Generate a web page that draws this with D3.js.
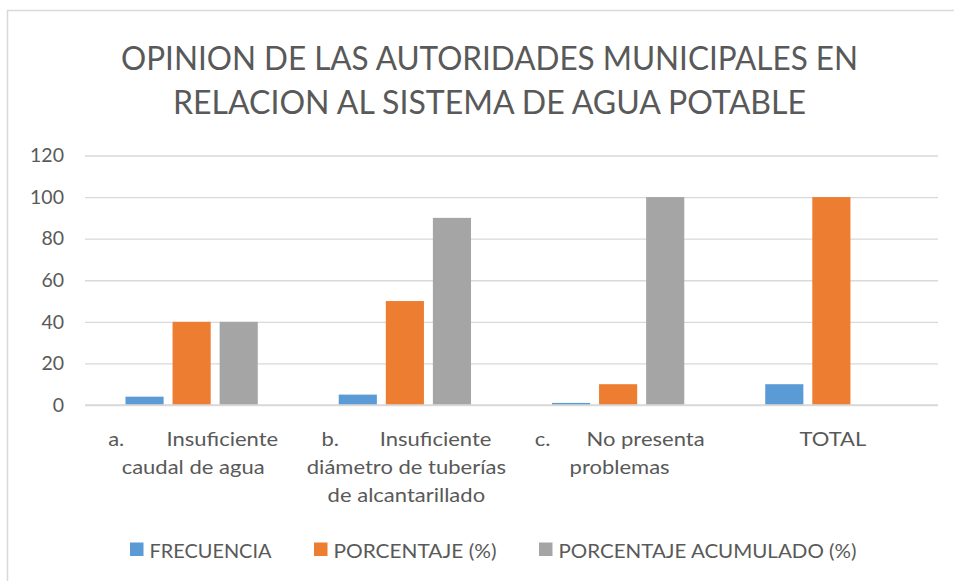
<!DOCTYPE html>
<html>
<head>
<meta charset="utf-8">
<script src="https://cdn.jsdelivr.net/npm/d3@7"></script>
<style>
  html, body { margin: 0; padding: 0; background: #fff; }
  svg { display: block; font-family: Lato, "Open Sans", sans-serif; }
</style>
</head>
<body>
<svg id="chart" width="954" height="581"></svg>
<script>
// ---- data ----
const titleLines = ["OPINION DE LAS AUTORIDADES MUNICIPALES EN", "RELACION AL SISTEMA DE AGUA POTABLE"];
const categories = ["a.\tInsuficiente caudal de agua", "b.\tInsuficiente diámetro de tuberías de alcantarillado", "c.\tNo presenta problemas", "TOTAL"];
// wrapped label lines; "\t" marks a justified first line (prefix left, text right)
const categoryLabelLines = [
  ["a.\tInsuficiente", "caudal de agua"],
  ["b.\tInsuficiente", "diámetro de tuberías", "de alcantarillado"],
  ["c.\tNo presenta", "problemas"],
  ["TOTAL"]
];
const seriesNames = ["FRECUENCIA", "PORCENTAJE (%)", "PORCENTAJE ACUMULADO (%)"];
const frecuencia = [4, 5, 1, 10];
const porcentaje = [40, 50, 10, 100];
const porcentajeAcumulado = [40, 90, 100, null];
const yTicks = [0, 20, 40, 60, 80, 100, 120];
const colors = ["#5B9BD5", "#ED7D31", "#A5A5A5"];

const seriesValues = [frecuencia, porcentaje, porcentajeAcumulado];

// ---- layout ----
const svg = d3.select("#chart");
const plot = { left: 85, right: 938, top: 155.5, bottom: 405 };
const textColor = "#595959";
const gridColor = "#D9D9D9";

// outer chart border
svg.append("rect")
  .attr("x", 7.5).attr("y", 10.5)
  .attr("width", 960).attr("height", 600)
  .attr("fill", "none").attr("stroke", gridColor).attr("stroke-width", 1.5);

// title
const titleWidths = [737, 633];
svg.append("g").selectAll("text").data(titleLines).join("text")
  .attr("x", 489.5)
  .attr("y", (d, i) => 69.5 + i * 44)
  .attr("text-anchor", "middle")
  .attr("fill", textColor)
  .attr("font-size", 32)
  .attr("font-weight", 400)
  .attr("textLength", (d, i) => titleWidths[i])
  .attr("lengthAdjust", "spacingAndGlyphs")
  .text(d => d);

// scales
const y = d3.scaleLinear().domain([0, 120]).range([plot.bottom, plot.top]);
const x0 = d3.scaleBand().domain(categories).range([plot.left, plot.right]).paddingInner(0).paddingOuter(0);
const x1 = d3.scaleBand().domain(seriesNames).range([0, x0.bandwidth()]).paddingInner(0.19).paddingOuter(0.86);

// gridlines
const yAxis = d3.axisLeft(y).tickValues(yTicks).tickSize(-(plot.right - plot.left)).tickPadding(21);
const gAxis = svg.append("g").attr("transform", `translate(${plot.left},0)`).call(yAxis);
gAxis.select(".domain").remove();
gAxis.selectAll(".tick line").attr("stroke", gridColor).attr("stroke-width", 1.3);
gAxis.selectAll(".tick text")
  .attr("fill", textColor)
  .attr("font-size", 19.5)
  .attr("font-family", "Lato, sans-serif");

// bars
const groups = svg.append("g").selectAll("g").data(categories).join("g")
  .attr("transform", d => `translate(${x0(d)},0)`);
groups.selectAll("rect")
  .data((d, ci) => seriesNames.map((s, si) => ({ s, si, v: seriesValues[si][ci] })).filter(e => e.v != null))
  .join("rect")
  .attr("x", e => x1(e.s))
  .attr("width", x1.bandwidth())
  .attr("y", e => y(e.v))
  .attr("height", e => y(0) - y(e.v))
  .attr("fill", e => colors[e.si]);

// baseline axis
svg.append("line")
  .attr("x1", plot.left).attr("x2", plot.right)
  .attr("y1", y(0)).attr("y2", y(0))
  .attr("stroke", gridColor).attr("stroke-width", 1.5);

// category labels
const labelFont = 20;
const stretch = 1.1;
const justifyWidth = 170;
function addLabel(x, yy, anchor, txt) {
  const t = svg.append("text").attr("x", x).attr("y", yy)
    .attr("text-anchor", anchor)
    .attr("fill", textColor).attr("font-size", labelFont).text(txt);
  const w = t.node().getComputedTextLength();
  t.attr("textLength", w * stretch).attr("lengthAdjust", "spacingAndGlyphs");
}
categories.forEach((c, ci) => {
  const cx = x0(c) + x0.bandwidth() / 2 + 1.5;
  categoryLabelLines[ci].forEach((line, li) => {
    const yy = 446 + li * 28;
    if (line.includes("\t")) {
      const [pre, rest] = line.split("\t");
      addLabel(cx - justifyWidth / 2, yy, "start", pre);
      addLabel(cx + justifyWidth / 2, yy, "end", rest);
    } else {
      addLabel(cx, yy, "middle", line);
    }
  });
});

// legend
const legendX = [130, 314, 539];
const legendTextW = [122, 163, 298];
const lg = svg.append("g").selectAll("g").data(seriesNames).join("g")
  .attr("transform", (d, i) => `translate(${legendX[i]},542.5)`);
lg.append("rect").attr("width", 13.5).attr("height", 13.5).attr("fill", (d, i) => colors[i]);
lg.append("text")
  .attr("x", 19.5).attr("y", 15)
  .attr("fill", textColor).attr("font-size", 19.5)
  .attr("textLength", (d, i) => legendTextW[i])
  .attr("lengthAdjust", "spacingAndGlyphs")
  .text(d => d);
</script>
</body>
</html>
